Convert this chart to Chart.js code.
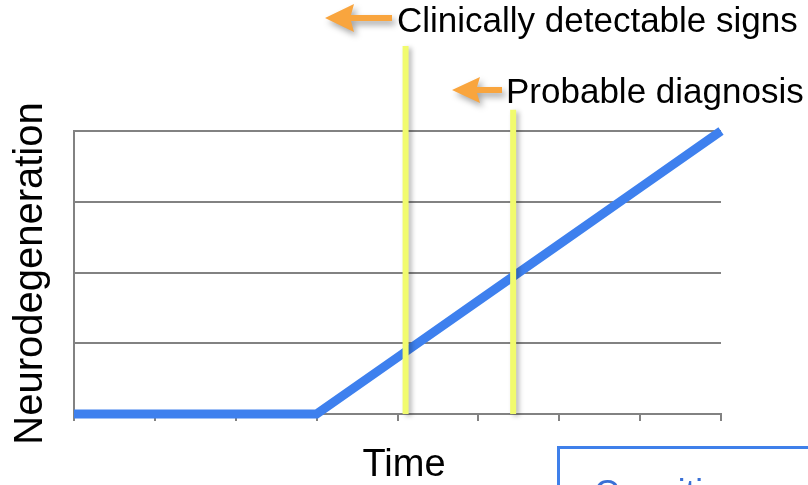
<!DOCTYPE html>
<html>
<head>
<meta charset="utf-8">
<script src="https://cdn.jsdelivr.net/npm/chart.js@4/dist/chart.umd.min.js"></script>
<style>
  html, body { margin: 0; padding: 0; background: #ffffff; }
  canvas { display: block; }
</style>
</head>
<body>
<canvas id="chart" width="808" height="485"></canvas>
<script>
// Time steps along the x axis (tick positions)
const timePoints = [0, 1, 2, 3, 4, 5, 6, 7, 8];
// Neurodegeneration level at each time step
const neurodegeneration = [0, 0, 0, 0, 0.8, 1.6, 2.4, 3.2, 4.0];
// Milestone markers: time position and how high each marker reaches
const milestoneNames = ['Clinically detectable signs', 'Probable diagnosis'];
const milestoneTimes = [4.1, 5.43];
const milestoneTops = [5.2, 4.3];
// Value range of the y axis
const yTicks = [0, 1, 2, 3, 4];

const FONT = '"Liberation Sans", Arial, Helvetica, sans-serif';
const GRID = '#828282';

const markerDatasets = milestoneTimes.map((t, i) => ({
  label: milestoneNames[i],
  data: [{ x: t, y: 0 }, { x: t, y: milestoneTops[i] }],
  borderColor: '#f1fb6e',
  borderWidth: 6,
  borderCapStyle: 'butt',
  pointRadius: 0,
  clip: false,
  shadow: true,
  order: 1
}));

// Soft drop shadow for datasets flagged with `shadow`
const shadowPlugin = {
  id: 'shadow',
  beforeDatasetDraw(chart, args) {
    const ds = chart.data.datasets[args.index];
    const ctx = chart.ctx;
    ctx.save();
    if (ds.shadow) {
      ctx.shadowColor = 'rgba(0,0,0,0.28)';
      ctx.shadowBlur = 5;
      ctx.shadowOffsetX = 3;
      ctx.shadowOffsetY = 2;
    }
  },
  afterDatasetDraw(chart) {
    chart.ctx.restore();
  }
};

function drawArrow(ctx, tipX, tipY, headLen, headHalf, shaftEnd, shaftHalf) {
  ctx.beginPath();
  ctx.moveTo(tipX, tipY);
  ctx.lineTo(tipX + headLen, tipY - headHalf);
  ctx.lineTo(tipX + headLen - 3, tipY - shaftHalf);
  ctx.lineTo(shaftEnd, tipY - shaftHalf);
  ctx.lineTo(shaftEnd, tipY + shaftHalf);
  ctx.lineTo(tipX + headLen - 3, tipY + shaftHalf);
  ctx.lineTo(tipX + headLen, tipY + headHalf);
  ctx.closePath();
  ctx.fill();
}

// Axis titles, milestone callouts and the boxed note at the bottom
const annotationPlugin = {
  id: 'annotations',
  afterDraw(chart) {
    const ctx = chart.ctx;
    const ys = chart.scales.y;
    ctx.save();

    // arrows pointing back at the milestone markers
    ctx.save();
    ctx.fillStyle = '#f9a53e';
    ctx.shadowColor = 'rgba(0,0,0,0.35)';
    ctx.shadowBlur = 6;
    ctx.shadowOffsetX = 3;
    ctx.shadowOffsetY = 4;
    drawArrow(ctx, 325, 18, 29, 14, 392, 3);
    drawArrow(ctx, 452, 90, 28, 13, 502, 3);
    ctx.restore();

    ctx.fillStyle = '#000000';
    ctx.textBaseline = 'alphabetic';
    ctx.textAlign = 'left';
    ctx.font = '35px ' + FONT;
    ctx.fillText(milestoneNames[0], 397, 32);
    ctx.fillText(milestoneNames[1], 506, 103);

    // x axis title
    ctx.textAlign = 'center';
    ctx.font = '38px ' + FONT;
    ctx.fillText('Time', 404, 476);

    // y axis title
    ctx.save();
    ctx.translate(42, (ys.top + ys.bottom) / 2 + 1);
    ctx.rotate(-Math.PI / 2);
    ctx.textAlign = 'center';
    ctx.font = '40px ' + FONT;
    ctx.fillText('Neurodegeneration', 0, 0);
    ctx.restore();

    // boxed note, running past the edge
    ctx.strokeStyle = '#3f80ea';
    ctx.lineWidth = 3;
    ctx.strokeRect(558.5, 447.5, 300, 100);
    ctx.fillStyle = '#3a70d6';
    ctx.textAlign = 'left';
    ctx.font = '35px ' + FONT;
    ctx.fillText('Cognitive', 594, 504);

    ctx.restore();
  }
};

new Chart(document.getElementById('chart'), {
  type: 'line',
  data: {
    datasets: [
      {
        label: 'Neurodegeneration',
        data: timePoints.map((t, i) => ({ x: t, y: neurodegeneration[i] })),
        borderColor: '#3e80ee',
        borderWidth: 9,
        borderCapStyle: 'butt',
        borderJoinStyle: 'miter',
        tension: 0,
        pointRadius: 0,
        clip: false,
        order: 2
      },
      ...markerDatasets
    ]
  },
  options: {
    responsive: false,
    animation: false,
    devicePixelRatio: 1,
    layout: { padding: { left: 0, top: 131, right: 87, bottom: 71 } },
    plugins: {
      legend: { display: false },
      tooltip: { enabled: false },
      title: { display: false }
    },
    scales: {
      x: {
        type: 'linear',
        min: timePoints[0],
        max: timePoints[timePoints.length - 1],
        ticks: { display: false, stepSize: 1 },
        grid: {
          drawOnChartArea: false,
          drawTicks: true,
          tickLength: 7,
          color: GRID,
          lineWidth: 2
        },
        border: { display: true, color: GRID, width: 2 },
        afterFit(scale) { scale.height = 0; }
      },
      y: {
        type: 'linear',
        min: yTicks[0],
        max: yTicks[yTicks.length - 1],
        afterBuildTicks(scale) { scale.ticks = yTicks.map(v => ({ value: v })); },
        ticks: { display: false },
        grid: {
          drawTicks: false,
          color: GRID,
          lineWidth: 2
        },
        border: { display: true, color: GRID, width: 2 },
        afterFit(scale) { scale.width = 74; }
      }
    }
  },
  plugins: [shadowPlugin, annotationPlugin]
});
</script>
</body>
</html>
